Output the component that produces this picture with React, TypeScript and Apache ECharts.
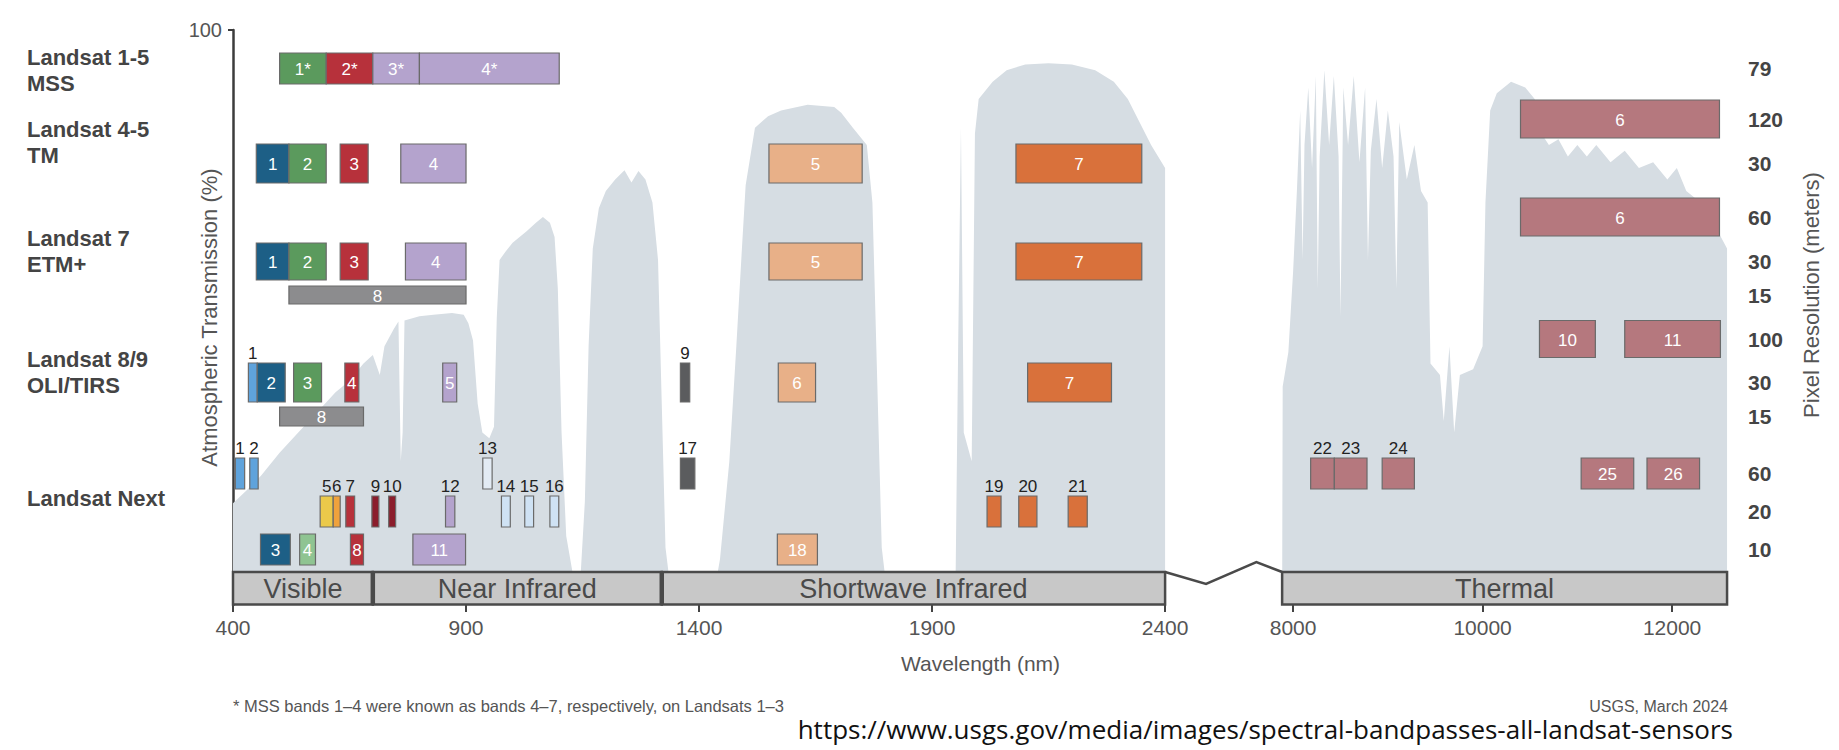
import React, { useEffect, useRef } from "react";
import * as echarts from "echarts";

const FONT = "'Liberation Sans', Arial, Helvetica, sans-serif";

// ---------------- data ----------------
const xTickWavelengths = [400, 900, 1400, 1900, 2400, 8000, 10000, 12000];

const sensorNames = ["Landsat 1-5\nMSS", "Landsat 4-5\nTM", "Landsat 7\nETM+", "Landsat 8/9\nOLI/TIRS", "Landsat Next"];
const sensorResolutions = [[79], [120, 30], [60, 30, 15], [100, 30, 15], [60, 20, 10]];

type Band = [string, number, number, number]; // band, start nm, end nm, resolution (m)
const mssBands: Band[] = [["1*", 500, 600, 79], ["2*", 600, 700, 79], ["3*", 700, 800, 79], ["4*", 800, 1100, 79]];
const tmBands: Band[] = [["1", 450, 520, 30], ["2", 520, 600, 30], ["3", 630, 690, 30], ["4", 760, 900, 30], ["5", 1550, 1750, 30], ["7", 2080, 2350, 30], ["6", 10400, 12500, 120]];
const etmBands: Band[] = [["1", 450, 520, 30], ["2", 520, 600, 30], ["3", 630, 690, 30], ["4", 770, 900, 30], ["5", 1550, 1750, 30], ["7", 2080, 2350, 30], ["6", 10400, 12500, 60], ["8", 520, 900, 15]];
const oliBands: Band[] = [["1", 433, 452, 30], ["2", 452, 512, 30], ["3", 530, 590, 30], ["4", 640, 670, 30], ["5", 850, 880, 30], ["9", 1360, 1380, 30], ["6", 1570, 1650, 30], ["7", 2105, 2285, 30], ["8", 500, 680, 15], ["10", 10600, 11190, 100], ["11", 11500, 12510, 100]];
const nextBands: Band[] = [
  ["1", 405, 425, 60], ["2", 436, 454, 60], ["3", 459, 523, 10], ["4", 543, 577, 10], ["5", 587, 615, 20], ["6", 615, 630, 20],
  ["7", 642, 661, 20], ["8", 652, 680, 10], ["9", 698, 713, 20], ["10", 734, 749, 20], ["11", 786, 899, 10], ["12", 856, 876, 20],
  ["13", 936, 956, 60], ["14", 976, 995, 20], ["15", 1026, 1045, 20], ["16", 1080, 1099, 20], ["17", 1360, 1391, 60],
  ["18", 1568, 1654, 10], ["19", 2018, 2048, 20], ["20", 2086, 2125, 20], ["21", 2192, 2233, 20],
  ["22", 8185, 8435, 60], ["23", 8435, 8780, 60], ["24", 8940, 9280, 60], ["25", 11040, 11595, 60], ["26", 11735, 12290, 60],
];
const allSensorBands = [mssBands, tmBands, etmBands, oliBands, nextBands];

const regionNames = ["Visible", "Near Infrared", "Shortwave Infrared", "Thermal"];
const regionStartNm = [400, 700, 1320, 7884];
const regionEndNm = [700, 1320, 2400, 12580];

// atmospheric transmission (%)
const reflectiveNm = [400, 430, 460, 500, 540, 580, 620, 650, 680, 700, 715, 725, 745, 755, 760, 764, 768, 800, 830, 870, 895, 905, 915, 925, 935, 950, 960, 966, 972, 985, 1000, 1030, 1050, 1065, 1080, 1090, 1097, 1105, 1115, 1130, 1145, 1155, 1163, 1172, 1185, 1200, 1220, 1240, 1255, 1270, 1285, 1300, 1312, 1320, 1328, 1340, 1360, 1400, 1430, 1445, 1465, 1480, 1492, 1500, 1520, 1548, 1576, 1633, 1690, 1705, 1730, 1760, 1772, 1782, 1792, 1805, 1900, 1950, 1956, 1962, 1968, 1985, 1992, 2000, 2030, 2060, 2100, 2150, 2200, 2250, 2290, 2320, 2345, 2370, 2400];
const reflectivePct = [17.7, 20, 22.5, 26.5, 30, 33.5, 37, 39, 42, 43.5, 40, 45, 48, 49.3, 25, 30, 49.5, 50.2, 50.5, 50.8, 50.5, 49, 46, 35, 30, 29, 31, 50, 60, 61.5, 63, 65, 66.5, 67.5, 66.5, 64, 55, 30, 12, 5, 4, 18, 45, 62, 69, 72, 74, 75.6, 73.5, 75.5, 74, 70, 60, 35, 10, 2, 0.5, 0.5, 1, 8, 25, 45, 62, 73, 83, 85, 86, 87, 86.6, 85.6, 83, 80, 70, 40, 10, 1, 0.5, 1, 45, 83, 30, 25, 82, 88, 91, 93, 94, 94.2, 94, 93, 91, 88, 84, 80, 76];
const thermalNm = [7884, 7890, 7950, 8000, 8040, 8075, 8100, 8120, 8160, 8200, 8240, 8260, 8280, 8330, 8380, 8430, 8480, 8500, 8530, 8580, 8640, 8700, 8760, 8790, 8820, 8880, 8940, 9000, 9060, 9090, 9120, 9200, 9280, 9350, 9420, 9450, 9550, 9590, 9650, 9700, 9760, 9900, 10000, 10030, 10080, 10150, 10300, 10450, 10550, 10620, 10700, 10800, 10900, 11000, 11100, 11200, 11350, 11500, 11650, 11800, 11950, 12050, 12150, 12300, 12450, 12580];
const thermalPct = [0, 38, 44, 58, 72, 86, 60, 80, 90, 76, 92, 55, 78, 93, 80, 92, 78, 50, 90, 80, 92, 77, 90, 60, 79, 88, 76, 86, 78, 55, 84, 74, 80, 72, 70, 42, 40, 32, 45, 30, 40, 41, 45, 70, 86, 89, 91, 90, 88, 82, 80, 81, 78, 80, 78, 80, 77, 79, 76, 77, 74, 76, 72, 70, 66, 62];

const footnote = "* MSS bands 1\u20134 were known as bands 4\u20137, respectively, on Landsats 1\u20133";
const credit = "USGS, March 2024";
const sourceUrl = "https://www.usgs.gov/media/images/spectral-bandpasses-all-landsat-sensors";

// ---------------- styles ----------------
const C = {
  blue: "#1d5f86", green: "#5b9a5d", red: "#b7313b", lav: "#b4a3cd", pan: "#8c8c8e", peach: "#e8b088",
  orange: "#d9713b", therm: "#b5787e", lblue: "#5fa3dc", lgreen: "#8fc492", yellow: "#ebc94a", orgY: "#f0a23c",
  dred: "#8b1d2c", pale: "#e3ebf4", pblue: "#cfe2f4", dgrey: "#5b5c5e",
};
const sensorColors = [
  [C.green, C.red, C.lav, C.lav],
  [C.blue, C.green, C.red, C.lav, C.peach, C.orange, C.therm],
  [C.blue, C.green, C.red, C.lav, C.peach, C.orange, C.therm, C.pan],
  [C.lblue, C.blue, C.green, C.red, C.lav, C.dgrey, C.peach, C.orange, C.pan, C.therm, C.therm],
  [C.lblue, C.lblue, C.blue, C.lgreen, C.yellow, C.orgY, C.red, C.red, C.dred, C.dred, C.lav, C.lav, C.pale, C.pblue, C.pblue, C.pblue, C.dgrey, C.peach, C.orange, C.orange, C.orange, C.therm, C.therm, C.therm, C.therm, C.therm],
];
const labelAbove = [[], [], [], ["1", "9"], ["1", "2", "5", "6", "7", "9", "10", "12", "13", "14", "15", "16", "17", "19", "20", "21", "22", "23", "24"]];

// ---------------- layout (px from plot top; plot is 575 px tall) ----------------
const GRID = { left: 233, right: 111, top: 30, bottom: 145 };
const PLOT_H = 575;
const dividerY = [14, 62, 160, 282, 403];
const subRowCenter = [[38.5], [89, 133.5], [187, 231.5, 265], [309, 352.5, 386.5], [443.5, 481.5, 519.5]];
const subRowHeight = [[31], [38, 39], [38, 37, 18], [37, 39, 19], [31, 31, 31]];
const sensorLabelCenter = [40, 112, 221.5, 342.5, 468];
const REGION_TOP = 542;
const REGION_BOTTOM = 574.5;

// broken wavelength axis: reflective part linear in nm, thermal part compressed
const THERMAL_U0 = 2674.7;
const THERMAL_K = 0.2033;
const toU = (nm: number) => (nm <= 5000 ? nm : THERMAL_U0 + (nm - 8000) * THERMAL_K);
const X_MIN = toU(400);
const X_MAX = toU(12590);

function buildOption(): any {
  const tickU = xTickWavelengths.map(toU);
  const rightVals = subRowCenter.flat();
  const rightTexts = sensorResolutions.flat().map(String);

  const bandItems: any[] = [];
  const bandMeta: { label: string; color: string; above: boolean }[] = [];
  allSensorBands.forEach((bands, s) => {
    bands.forEach((b, i) => {
      const r = sensorResolutions[s].indexOf(b[3]);
      bandItems.push([toU(b[1]), toU(b[2]), subRowCenter[s][r], subRowHeight[s][r]]);
      bandMeta.push({ label: b[0], color: sensorColors[s][i], above: labelAbove[s].includes(b[0]) });
    });
  });

  const bandRender = (params: any, api: any) => {
    const m = bandMeta[params.dataIndex];
    const a = api.coord([api.value(0), api.value(2)]);
    const b = api.coord([api.value(1), api.value(2)]);
    const h = api.size([0, api.value(3)])[1];
    const x0 = a[0], x1 = b[0], yc = a[1];
    return {
      type: "group",
      children: [
        { type: "rect", shape: { x: x0, y: yc - h / 2, width: x1 - x0, height: h }, style: { fill: m.color, stroke: "#6a6a6a", lineWidth: 1.2 } },
        {
          type: "text",
          style: {
            text: m.label, x: (x0 + x1) / 2, y: m.above ? yc - h / 2 - 1 : yc + 1,
            align: "center", verticalAlign: m.above ? "bottom" : "middle",
            fill: m.above ? "#222" : "#ffffff", fontSize: 17, fontFamily: FONT,
          },
        },
      ],
    };
  };

  const dividerRender = (params: any, api: any) => {
    const cs = params.coordSys;
    const p = api.coord([api.value(0), api.value(1)]);
    return {
      type: "line",
      shape: { x1: cs.x, y1: p[1], x2: cs.x + cs.width + 3, y2: p[1] },
      style: { stroke: "#111", lineWidth: 3.2, lineDash: [18, 6], shadowBlur: 4, shadowColor: "rgba(0,0,0,0.45)", shadowOffsetY: 2 },
    };
  };

  const regionRender = (params: any, api: any) => {
    const i = params.dataIndex;
    const a = api.coord([api.value(0), REGION_TOP]);
    const b = api.coord([api.value(1), REGION_BOTTOM]);
    const children: any[] = [
      { type: "rect", shape: { x: a[0], y: a[1], width: b[0] - a[0], height: b[1] - a[1] }, style: { fill: "#c8c8c8", stroke: "#4a4a4a", lineWidth: 2.5 } },
      { type: "text", style: { text: regionNames[i], x: (a[0] + b[0]) / 2, y: (a[1] + b[1]) / 2 + 1, align: "center", verticalAlign: "middle", fill: "#4a4a4a", fontSize: 27, fontFamily: FONT } },
    ];
    if (i === 1 || i === 2) {
      children.push({ type: "line", shape: { x1: a[0], y1: a[1], x2: a[0], y2: b[1] }, style: { stroke: "#4a4a4a", lineWidth: 4.5 } });
    }
    return { type: "group", children };
  };

  const breakRender = (params: any, api: any) => {
    const a = api.coord([api.value(0), REGION_TOP]);
    const b = api.coord([api.value(1), REGION_TOP]);
    const w = b[0] - a[0];
    return {
      type: "polyline",
      shape: { points: [[a[0], a[1]], [a[0] + 0.35 * w, a[1] + 12], [a[0] + 0.78 * w, a[1] - 10], [b[0], b[1]]] },
      style: { stroke: "#4a4a4a", lineWidth: 2.5, fill: null },
    };
  };

  const xLabel = (v: number) => {
    const i = tickU.findIndex((t) => Math.abs(t - v) < 0.5);
    return i >= 0 ? String(xTickWavelengths[i]) : "";
  };
  const rightLabel = (v: number) => {
    const i = rightVals.findIndex((t) => Math.abs(t - v) < 0.01);
    return i >= 0 ? rightTexts[i] : "";
  };
  const sensorLabel = (v: number) => {
    const i = sensorLabelCenter.findIndex((t) => Math.abs(t - v) < 0.01);
    return i >= 0 ? sensorNames[i] : "";
  };

  return {
    animation: false,
    backgroundColor: "#ffffff",
    textStyle: { fontFamily: FONT },
    grid: { left: GRID.left, right: GRID.right, top: GRID.top, bottom: GRID.bottom, containLabel: false, outerBoundsMode: "none" },
    xAxis: {
      type: "value", min: X_MIN, max: X_MAX,
      name: "Wavelength (nm)", nameLocation: "middle", nameGap: 48, nameMoveOverlap: false,
      nameTextStyle: { fontSize: 21, color: "#555", fontFamily: FONT },
      axisLine: { show: false },
      splitLine: { show: false },
      axisTick: { show: true, customValues: tickU, length: 7, lineStyle: { color: "#444", width: 2 } },
      axisLabel: { show: true, customValues: tickU, formatter: xLabel, fontSize: 21, color: "#555", margin: 12, fontFamily: FONT },
    },
    yAxis: [
      {
        type: "value", min: 0, max: 100, position: "left",
        name: "Atmospheric Transmission (%)", nameLocation: "middle", nameGap: 13, nameMoveOverlap: false,
        nameTextStyle: { fontSize: 22, color: "#555", fontFamily: FONT },
        axisLine: { show: true, onZero: false, lineStyle: { color: "#3c3c3c", width: 2.5 } },
        splitLine: { show: false },
        axisTick: { show: true, customValues: [100], length: 5, lineStyle: { color: "#3c3c3c", width: 2 } },
        axisLabel: { show: true, customValues: [100], fontSize: 20, color: "#555", margin: 11, fontFamily: FONT },
      },
      {
        type: "value", min: 0, max: PLOT_H, inverse: true, position: "right",
        axisLine: { show: false }, axisTick: { show: false }, splitLine: { show: false },
        axisLabel: { show: true, customValues: rightVals, formatter: rightLabel, fontSize: 21, fontWeight: "bold", color: "#444", margin: 20, fontFamily: FONT },
      },
      {
        type: "value", min: 0, max: PLOT_H, inverse: true, position: "left",
        axisLine: { show: false }, axisTick: { show: false }, splitLine: { show: false },
        axisLabel: { show: true, customValues: sensorLabelCenter, formatter: sensorLabel, align: "left", margin: 206, fontSize: 22, lineHeight: 26, fontWeight: "bold", color: "#444", fontFamily: FONT },
      },
    ],
    series: [
      {
        name: "transmission-reflective", type: "line", xAxisIndex: 0, yAxisIndex: 0, z: 1, silent: true,
        data: reflectiveNm.map((nm, i) => [toU(nm), reflectivePct[i]]),
        showSymbol: false, symbol: "none", lineStyle: { width: 0, opacity: 0 }, areaStyle: { color: "#d6dde3", opacity: 1 },
      },
      {
        name: "transmission-thermal", type: "line", xAxisIndex: 0, yAxisIndex: 0, z: 1, silent: true,
        data: thermalNm.map((nm, i) => [toU(nm), thermalPct[i]]),
        showSymbol: false, symbol: "none", lineStyle: { width: 0, opacity: 0 }, areaStyle: { color: "#d6dde3", opacity: 1 },
      },
      {
        name: "dividers", type: "custom", xAxisIndex: 0, yAxisIndex: 1, z: 3, silent: true,
        data: dividerY.map((v) => [X_MIN, v]), renderItem: dividerRender,
      },
      {
        name: "bands", type: "custom", xAxisIndex: 0, yAxisIndex: 1, z: 4, silent: true,
        data: bandItems, renderItem: bandRender,
      },
      {
        name: "regions", type: "custom", xAxisIndex: 0, yAxisIndex: 1, z: 5, silent: true,
        data: regionStartNm.map((s, i) => [toU(s), toU(regionEndNm[i])]), renderItem: regionRender,
      },
      {
        name: "axis-break", type: "custom", xAxisIndex: 0, yAxisIndex: 1, z: 5, silent: true,
        data: [[toU(regionEndNm[2]), toU(regionStartNm[3])]], renderItem: breakRender,
      },
    ],
    graphic: [
      { type: "text", x: 1811, y: 295, rotation: Math.PI / 2, style: { text: "Pixel Resolution (meters)", fill: "#555", fontSize: 22, fontFamily: FONT, align: "center", verticalAlign: "middle" } },
      { type: "text", x: 233, y: 706, style: { text: footnote, fill: "#555", fontSize: 16.5, fontFamily: FONT, align: "left", verticalAlign: "middle" } },
      { type: "text", x: 1728, y: 706, style: { text: credit, fill: "#555", fontSize: 16, fontFamily: FONT, align: "right", verticalAlign: "middle" } },
      { type: "text", x: 1733, y: 729, style: { text: sourceUrl, fill: "#111", fontSize: 26, fontFamily: "'Open Sans', 'Noto Sans', sans-serif", align: "right", verticalAlign: "middle" } },
    ],
  };
}

export default function App() {
  const ref = useRef<HTMLDivElement>(null);
  useEffect(() => {
    if (!ref.current) return;
    const chart = echarts.init(ref.current, null, { renderer: "svg" });
    chart.setOption(buildOption());
    return () => chart.dispose();
  }, []);
  return <div ref={ref} style={{ position: "fixed", left: 0, top: 0, width: 1839, height: 750, background: "#ffffff" }} />;
}
